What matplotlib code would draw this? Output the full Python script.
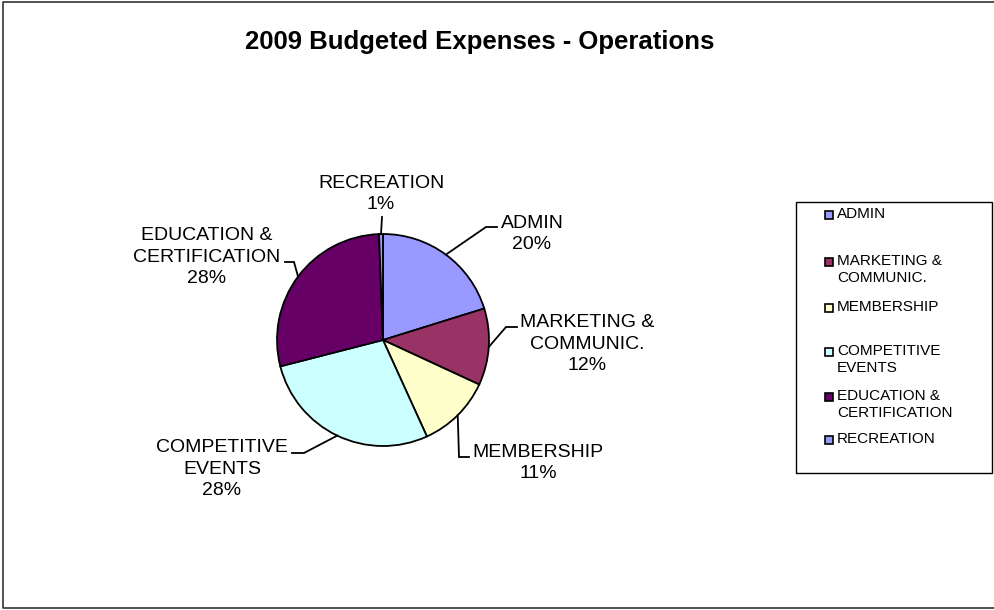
import numpy as np
import matplotlib
matplotlib.use("Agg")
import matplotlib.pyplot as plt
from matplotlib.patches import Rectangle

plt.rcParams['font.family'] = ['Liberation Sans', 'DejaVu Sans']

# data (percent of budget)
categories = ['ADMIN', 'MARKETING &\nCOMMUNIC.', 'MEMBERSHIP',
              'COMPETITIVE\nEVENTS', 'EDUCATION &\nCERTIFICATION', 'RECREATION']
values = [20.2, 11.7, 11.3, 27.8, 28.4, 0.6]
colors = ['#9999FF', '#993366', '#FFFFCC', '#CCFFFF', '#660066', '#9999FF']
title = '2009 Budgeted Expenses - Operations'

# layout in pixel units, y measured from the top
W, H = 995, 610
pie_c = (383, 340)
pie_r = 106
label_xy = [(532, 234), (587, 344), (538, 463), (222, 469), (207, 257), (381, 194)]
knees = [(486, 227), (506, 327), (459, 457), (304, 453), (294, 262), (382, 217)]
ends = [(497, 227), (517, 327), (469, 457), (292, 453), (285, 262), (382, 217)]
leg_box = (796, 202, 992, 473)
leg_y = [215, 262, 308, 352, 397, 440]


def py(y):
    return H - y


fig = plt.figure(figsize=(W / 100, H / 100), dpi=100)
ax = fig.add_axes([0, 0, 1, 1])

wedges, _ = ax.pie(values, colors=colors, startangle=90, counterclock=False,
                   center=(pie_c[0], py(pie_c[1])), radius=pie_r,
                   wedgeprops=dict(edgecolor='black', linewidth=1.3))

for w, name, v, (lx, ly), (kx, ky), (ex, ey) in zip(wedges, categories, values,
                                                    label_xy, knees, ends):
    mid = np.deg2rad((w.theta1 + w.theta2) / 2)
    sx = pie_c[0] + pie_r * np.cos(mid)
    sy = py(pie_c[1]) + pie_r * np.sin(mid)
    ax.plot([sx, kx, ex], [sy, py(ky), py(ey)], color='black', lw=1.3,
            solid_joinstyle='miter')
    ax.text(lx, py(ly), f'{name}\n{v:.0f}%', ha='center', va='center',
            fontsize=14, linespacing=1.33)

ax.text(480, py(42), title, ha='center', va='center', fontsize=18.5,
        fontweight='bold')

# legend
x0, y0, x1, y1 = leg_box
ax.add_patch(Rectangle((x0, py(y1)), x1 - x0, y1 - y0, fill=False,
                       edgecolor='black', lw=1))
for name, c, ly in zip(categories, colors, leg_y):
    ax.add_patch(Rectangle((825, py(ly) - 4), 8, 8, facecolor=c,
                           edgecolor='black', lw=1.2))
    ax.text(837, py(ly) + 8, name, ha='left', va='top', fontsize=11,
            linespacing=1.3)

# outer chart frame (right side is cut off in the screenshot)
ax.plot([W, 3, 3, W], [py(1.5), py(1.5), py(608.5), py(608.5)],
        color='#333333', lw=1.2)

ax.set_xlim(0, W)
ax.set_ylim(0, H)
ax.set_aspect('equal')
ax.axis('off')

fig.savefig('out.png', dpi=100)
